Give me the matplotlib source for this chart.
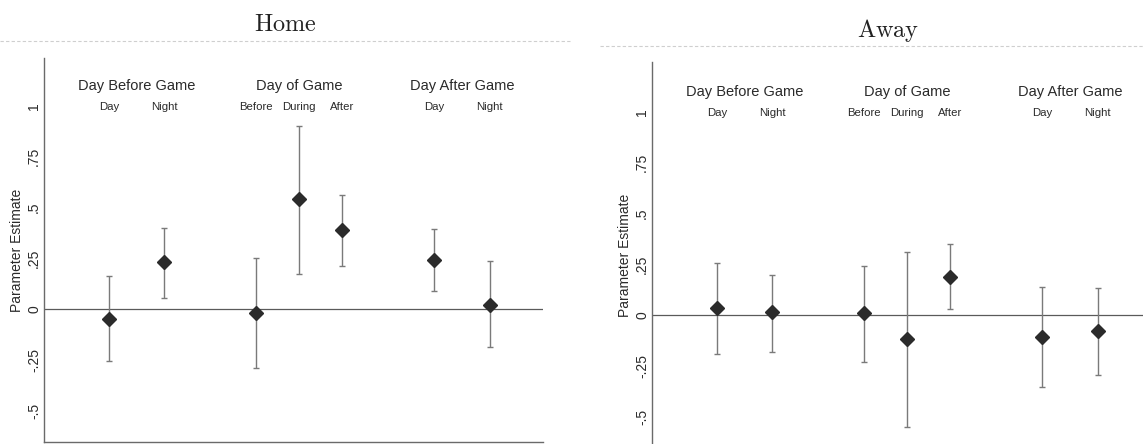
import matplotlib
matplotlib.use("Agg")
import matplotlib.pyplot as plt
from matplotlib.lines import Line2D

# ---- data ----
categories = ["Day", "Night", "Before", "During", "After", "Day", "Night"]
groups = ["Day Before Game", "Day of Game", "Day After Game"]
group_members = [[0, 1], [2, 3, 4], [5, 6]]
x_pos = [1.2, 2.2, 3.88, 4.68, 5.47, 7.16, 8.17]

home_est = [-0.047, 0.23, -0.018, 0.54, 0.387, 0.243, 0.02]
home_hi = [0.162, 0.40, 0.253, 0.903, 0.563, 0.394, 0.236]
home_lo = [-0.254, 0.054, -0.289, 0.172, 0.21, 0.089, -0.189]

away_est = [0.033, 0.013, 0.01, -0.118, 0.187, -0.107, -0.079]
away_hi = [0.257, 0.199, 0.242, 0.31, 0.35, 0.138, 0.133]
away_lo = [-0.194, -0.18, -0.23, -0.55, 0.03, -0.353, -0.296]

yticks = [-0.5, -0.25, 0, 0.25, 0.5, 0.75, 1]
ytick_labels = ["-.5", "-.25", "0", ".25", ".5", ".75", "1"]

plt.rcParams["font.family"] = ["Liberation Sans", "DejaVu Sans"]
plt.rcParams["mathtext.fontset"] = "cm"

W, H = 1143, 444
fig = plt.figure(figsize=(W / 100, H / 100), dpi=100)
fig.patch.set_facecolor("white")

text_col = "#2a2a2a"
axis_col = "#6a6a6a"
bar_col = "#7a7a7a"
pt_col = "#2b2b2b"


def px(x0, y_top, w, y_bot):
    return [x0 / W, (H - y_bot) / H, w / W, (y_bot - y_top) / H]


def panel(rect, est, lo, hi, ylim, title, title_xy, bottom_spine):
    ax = fig.add_axes(rect)
    ax.set_xlim(0, 9.15)
    ax.set_ylim(*ylim)
    for s in ["top", "right"]:
        ax.spines[s].set_visible(False)
    ax.spines["left"].set_color(axis_col)
    ax.spines["left"].set_linewidth(1.0)
    ax.spines["bottom"].set_visible(bottom_spine)
    ax.spines["bottom"].set_color(axis_col)
    ax.spines["bottom"].set_linewidth(1.0)
    ax.axhline(0, color="#5a5a5a", lw=0.9, zorder=1)
    lower = [e - l for e, l in zip(est, lo)]
    upper = [h - e for e, h in zip(est, hi)]
    ax.errorbar(x_pos, est, yerr=[lower, upper], fmt="none", ecolor=bar_col,
                elinewidth=1.0, capsize=2.5, capthick=1.0, zorder=2)
    ax.plot(x_pos, est, linestyle="none", marker="D", markersize=7,
            color=pt_col, markeredgecolor=pt_col, zorder=3)
    ax.set_xticks([])
    ax.set_yticks(yticks)
    ax.set_yticklabels(ytick_labels, rotation=90, va="center",
                       fontsize=10, color=text_col)
    ax.tick_params(axis="y", length=0, pad=2)
    ax.set_ylabel("Parameter Estimate", fontsize=10, color=text_col, labelpad=2)
    for g, members in zip(groups, group_members):
        xc = sum(x_pos[m] for m in members) / len(members)
        ax.text(xc, 1.10, g, ha="center", va="center", fontsize=10.5,
                color=text_col)
        for m in members:
            ax.text(x_pos[m], 0.995, categories[m], ha="center", va="center",
                    fontsize=8.2, color=text_col)
    fig.text(title_xy[0] / W, 1 - title_xy[1] / H, r"$\mathrm{" + title + "}$",
             ha="center", va="center", fontsize=17.5, color="#222222")
    return ax


panel(px(44, 58, 499, 442), home_est, home_lo, home_hi, (-0.655, 1.236),
      "Home", (285, 25), True)
panel(px(652, 62, 499, 448), away_est, away_lo, away_hi, (-0.655, 1.246),
      "Away", (888, 30), False)

# faint rule below the titles (from the page scan)
fig.add_artist(Line2D([0.0, 570 / W], [1 - 41 / H, 1 - 41 / H], color="#cfcfcf",
                      lw=0.8, linestyle=(0, (3, 2))))
fig.add_artist(Line2D([600 / W, 1.0], [1 - 46 / H, 1 - 46 / H], color="#cfcfcf",
                      lw=0.8, linestyle=(0, (3, 2))))

fig.savefig("out.png", dpi=100, facecolor="white")
